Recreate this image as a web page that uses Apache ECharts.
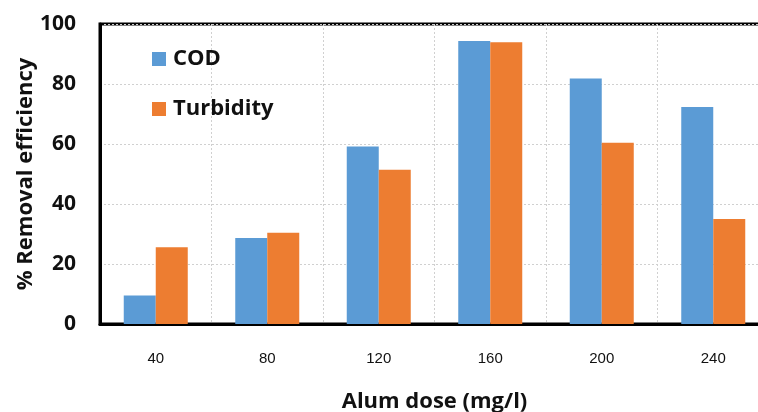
<!DOCTYPE html>
<html><head><meta charset="utf-8">
<script src="https://cdn.jsdelivr.net/npm/echarts@6/dist/echarts.min.js"></script>
<style>html,body{margin:0;padding:0;background:#fff}#c{width:758px;height:412px}</style>
</head><body><div id="c"></div>
<script>
const categories = ['40','80','120','160','200','240'];
const codValues = [9.5, 28.7, 59.2, 94.3, 81.8, 72.3];
const turbidityValues = [25.6, 30.4, 51.4, 93.9, 60.4, 35.0];
const yTicks = {min: 0, max: 100, interval: 20};
const seriesNames = ['COD', 'Turbidity'];

const chart = echarts.init(document.getElementById('c'), null, {renderer: 'canvas'});
const boldFont = 'Open Sans';
chart.setOption({
  animation: false,
  backgroundColor: '#fff',
  grid: {left: 100, width: 669, top: 24, height: 300, show: true, borderColor: '#000', borderWidth: 3,
         containLabel: false, outerBoundsMode: 'none'},
  legend: {
    orient: 'vertical', left: 152, top: 48, padding: 0, itemWidth: 14, itemHeight: 14, itemGap: 28,
    icon: 'rect',
    textStyle: {fontFamily: boldFont, fontWeight: 'bold', fontSize: 22, color: '#111', padding: [0,0,0,2]},
    data: seriesNames
  },
  xAxis: {
    type: 'category', data: categories,
    name: 'Alum dose (mg/l)', nameLocation: 'middle', nameGap: 67, nameMoveOverlap: false,
    nameTextStyle: {fontFamily: boldFont, fontWeight: 'bold', fontSize: 22, color: '#111'},
    axisLine: {lineStyle: {color: '#000', width: 3}},
    axisTick: {show: false},
    axisLabel: {fontFamily: 'Liberation Sans', fontSize: 15, color: '#111', margin: 27},
    splitLine: {show: true, lineStyle: {color: '#d0d0d0', type: [2, 2], width: 1}}
  },
  yAxis: {
    type: 'value', min: yTicks.min, max: yTicks.max, interval: yTicks.interval,
    name: '% Removal efficiency', nameLocation: 'middle', nameGap: 63, nameMoveOverlap: false,
    nameTextStyle: {fontFamily: boldFont, fontWeight: 'bold', fontSize: 22, color: '#111'},
    axisLine: {show: true, lineStyle: {color: '#000', width: 3}},
    axisTick: {show: false},
    axisLabel: {fontFamily: boldFont, fontWeight: 'bold', fontSize: 21, color: '#111', margin: 24},
    splitLine: {show: true, lineStyle: {color: '#d0d0d0', type: [2, 2], width: 1}}
  },
  series: [
    {name: seriesNames[0], type: 'bar', data: codValues, barWidth: 32, barGap: '0%',
     itemStyle: {color: '#5B9BD5'}},
    {name: seriesNames[1], type: 'bar', data: turbidityValues, barWidth: 32, barGap: '0%',
     itemStyle: {color: '#ED7D31'}}
  ]
});
</script></body></html>
